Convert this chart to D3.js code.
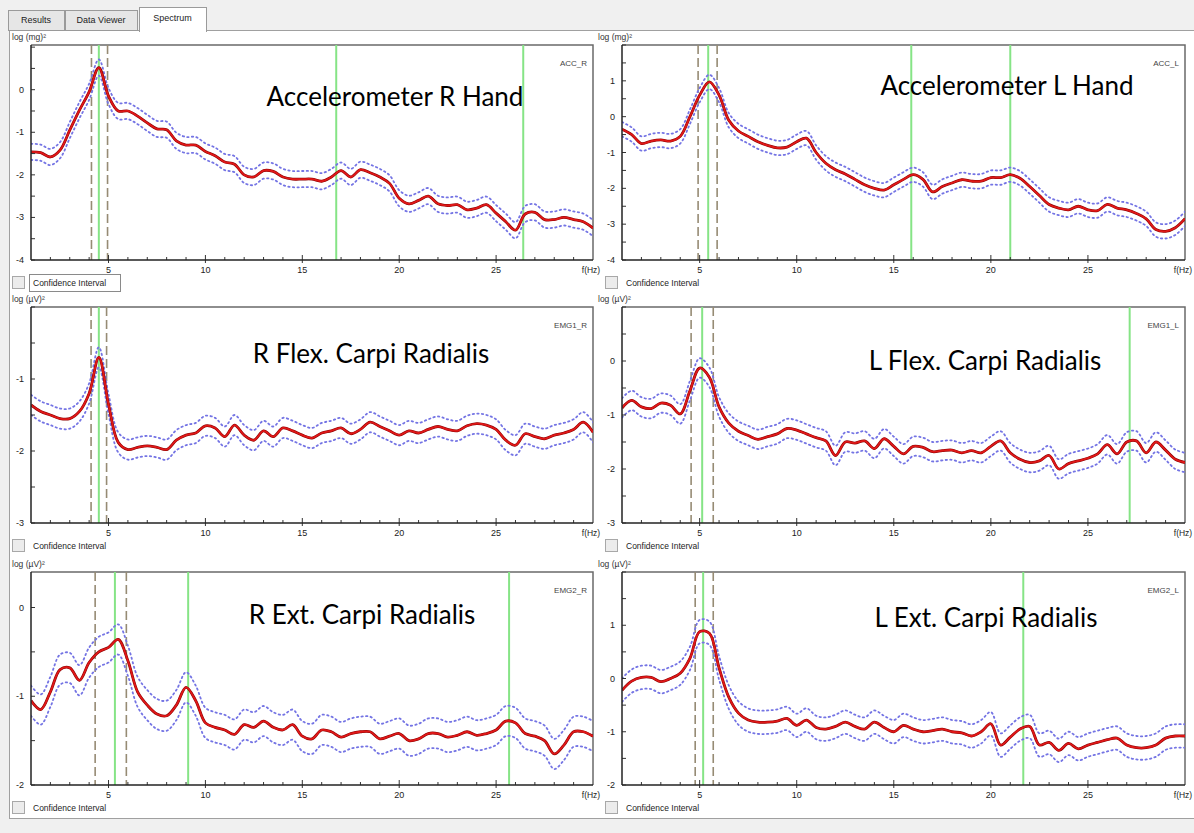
<!DOCTYPE html>
<html>
<head>
<meta charset="utf-8">
<script src="https://cdn.jsdelivr.net/npm/d3@7/dist/d3.min.js"></script>
<style>
  body { margin: 0; background: #f0f0f0; }
  svg { display: block; font-family: "Liberation Sans", Arial, sans-serif; }
</style>
</head>
<body>
<div id="chart"></div>
<script>
// frequency grid (Hz)
var freqs = [1, 1.5, 2, 2.5, 3, 3.5, 4, 4.5, 5, 5.5, 6, 6.5, 7, 7.5, 8, 8.5, 9, 9.5, 10, 10.5,
  11, 11.5, 12, 12.5, 13, 13.5, 14, 14.5, 15, 15.5, 16, 16.5, 17, 17.5, 18, 18.5, 19, 19.5, 20, 20.5,
  21, 21.5, 22, 22.5, 23, 23.5, 24, 24.5, 25, 25.5, 26, 26.5, 27, 27.5, 28, 28.5, 29, 29.5, 30];
var freqRange = [1, 30];
var majorTicks = [5, 10, 15, 20, 25];

// log power spectra, one per channel
var accR = [-1.46, -1.48, -1.58, -1.42, -0.95, -0.48, -0.05, 0.52, -0.15, -0.5, -0.5, -0.62, -0.78, -0.92, -0.94, -1.2, -1.3, -1.3, -1.45, -1.55,
  -1.7, -1.75, -2.0, -2.05, -1.9, -1.92, -2.05, -2.1, -2.1, -2.1, -2.15, -2.05, -1.9, -2.05, -1.88, -1.95, -2.05, -2.2, -2.55, -2.68,
  -2.6, -2.5, -2.68, -2.72, -2.7, -2.82, -2.78, -2.7, -2.9, -3.1, -3.3, -2.92, -2.88, -3.05, -3.05, -3.0, -3.05, -3.1, -3.25];
var accL = [-0.35, -0.5, -0.75, -0.68, -0.65, -0.68, -0.55, 0.0, 0.6, 0.97, 0.6, -0.1, -0.4, -0.55, -0.7, -0.8, -0.87, -0.85, -0.7, -0.6,
  -1.0, -1.3, -1.48, -1.6, -1.75, -1.9, -2.0, -2.05, -1.9, -1.75, -1.62, -1.75, -2.1, -1.95, -1.85, -1.76, -1.8, -1.8, -1.7, -1.7,
  -1.62, -1.72, -1.95, -2.2, -2.45, -2.55, -2.6, -2.5, -2.6, -2.62, -2.45, -2.55, -2.6, -2.7, -2.85, -3.15, -3.2, -3.1, -2.85];
var emg1R = [-1.36, -1.45, -1.5, -1.55, -1.55, -1.45, -1.2, -0.7, -1.35, -1.88, -1.98, -1.95, -1.93, -1.95, -1.98, -1.85, -1.78, -1.75, -1.65, -1.68,
  -1.8, -1.64, -1.78, -1.85, -1.72, -1.8, -1.68, -1.72, -1.78, -1.82, -1.75, -1.72, -1.68, -1.76, -1.7, -1.6, -1.66, -1.72, -1.78, -1.72,
  -1.75, -1.7, -1.66, -1.7, -1.72, -1.65, -1.62, -1.64, -1.7, -1.85, -1.92, -1.76, -1.8, -1.83, -1.78, -1.75, -1.7, -1.6, -1.74];
var emg1L = [-0.87, -0.73, -0.85, -0.88, -0.78, -0.82, -0.98, -0.55, -0.13, -0.3, -0.85, -1.15, -1.3, -1.38, -1.45, -1.4, -1.35, -1.25, -1.28, -1.35,
  -1.42, -1.48, -1.75, -1.5, -1.52, -1.48, -1.62, -1.44, -1.58, -1.72, -1.58, -1.6, -1.68, -1.66, -1.65, -1.7, -1.66, -1.7, -1.58, -1.48,
  -1.7, -1.82, -1.88, -1.85, -1.75, -2.0, -1.9, -1.85, -1.8, -1.72, -1.55, -1.72, -1.5, -1.48, -1.7, -1.5, -1.65, -1.82, -1.88];
var emg2R = [-1.05, -1.15, -0.95, -0.7, -0.68, -0.82, -0.62, -0.5, -0.45, -0.36, -0.6, -0.95, -1.1, -1.2, -1.22, -1.1, -0.9, -1.05, -1.3, -1.35,
  -1.38, -1.43, -1.32, -1.35, -1.28, -1.35, -1.38, -1.32, -1.45, -1.48, -1.38, -1.4, -1.46, -1.42, -1.4, -1.4, -1.48, -1.45, -1.42, -1.5,
  -1.48, -1.42, -1.42, -1.46, -1.44, -1.4, -1.44, -1.42, -1.38, -1.28, -1.3, -1.42, -1.45, -1.5, -1.65, -1.55, -1.4, -1.4, -1.45];
var emg2L = [-0.22, -0.05, 0.02, 0.02, -0.06, 0.0, 0.1, 0.38, 0.88, 0.85, 0.2, -0.35, -0.65, -0.78, -0.82, -0.82, -0.8, -0.75, -0.88, -0.78,
  -0.92, -0.95, -0.9, -0.82, -0.9, -0.95, -0.82, -0.92, -1.0, -0.88, -0.95, -1.0, -0.98, -0.95, -1.0, -1.02, -1.08, -1.0, -0.85, -1.25,
  -1.1, -0.95, -0.9, -1.25, -1.2, -1.35, -1.22, -1.32, -1.25, -1.2, -1.15, -1.12, -1.25, -1.3, -1.3, -1.25, -1.12, -1.08, -1.08];

// confidence half-widths (log units)
var ciWidths = [0.19, 0.2, 0.14, 0.18, 0.17, 0.22];

// y ranges
var yDomains = [[-4, 1.05], [-4, 2], [-3, 0], [-3, 1], [-2, 0.4], [-2, 2]];

// marker lines (Hz)
var greenLines = [[4.5, 16.75, 26.4], [5.44, 15.9, 21.0], [4.5], [5.13, 27.15], [5.33, 9.11, 25.67], [5.18, 21.67]];
var dashedLines = [[4.12, 4.95], [4.92, 5.9], [4.1, 4.9], [4.56, 5.7], [4.31, 5.92], [4.77, 5.7]];

// texts
var channels = ["ACC_R", "ACC_L", "EMG1_R", "EMG1_L", "EMG2_R", "EMG2_L"];
var titles = ["Accelerometer R Hand", "Accelerometer L Hand", "R Flex. Carpi Radialis",
  "L Flex. Carpi Radialis", "R Ext. Carpi Radialis", "L Ext. Carpi Radialis"];
var yUnits = ["log (mg)\u00b2", "log (mg)\u00b2", "log (\u00b5V)\u00b2", "log (\u00b5V)\u00b2", "log (\u00b5V)\u00b2", "log (\u00b5V)\u00b2"];
var tabs = ["Results", "Data Viewer", "Spectrum"];

var series = [accR, accL, emg1R, emg1L, emg2R, emg2L];

var W = 1194, H = 833;
var svg = d3.select("#chart").append("svg").attr("width", W).attr("height", H);

// window chrome
svg.append("rect").attr("width", W).attr("height", H).attr("fill", "#f0f0f0");
svg.append("rect").attr("x", 9.5).attr("y", 30.5).attr("width", W - 9).attr("height", 788)
  .attr("fill", "#fff").attr("stroke", "#a0a0a0");

var tabPos = [[8, 56], [65, 72], [139, 67]];
tabs.forEach(function(t, i) {
  var active = i == 2;
  var g = svg.append("g");
  g.append("rect")
    .attr("x", tabPos[i][0] + 0.5).attr("y", active ? 7.5 : 10.5)
    .attr("width", tabPos[i][1]).attr("height", active ? 24 : 20)
    .attr("fill", active ? "#fff" : "#e6e6e6").attr("stroke", "#9a9a9a");
  g.append("text")
    .attr("x", tabPos[i][0] + tabPos[i][1] / 2).attr("y", active ? 21 : 23)
    .attr("text-anchor", "middle").attr("font-size", 9).attr("fill", "#222")
    .text(t);
});
svg.append("rect").attr("x", 140).attr("y", 29).attr("width", 66).attr("height", 3).attr("fill", "#fff");

// panel layout
var colX = [[31, 593], [622, 1185]];
var rowY = [[45, 260], [307, 523], [572, 785]];
var titlePos = [[395, 106], [1007, 95], [371, 363], [985, 370], [362, 624], [986, 627]];

var line = d3.line().curve(d3.curveCatmullRom.alpha(0.5));

series.forEach(function(vals, i) {
  var col = i % 2, row = Math.floor(i / 2);
  var x0 = colX[col][0], x1 = colX[col][1];
  var y0 = rowY[row][0], y1 = rowY[row][1];

  var x = d3.scaleLinear().domain(freqRange).range([x0, x1]);
  var y = d3.scaleLinear().domain(yDomains[i]).range([y1, y0]);

  var g = svg.append("g");

  g.append("defs").append("clipPath").attr("id", "clip" + i)
    .append("rect").attr("x", x0).attr("y", y0).attr("width", x1 - x0).attr("height", y1 - y0);

  // frame
  g.append("path")
    .attr("d", "M" + x0 + "," + y0 + "H" + x1 + "V" + y1)
    .attr("fill", "none").attr("stroke", "#6a6a6a").attr("stroke-width", 1.5);

  // unit label
  g.append("text").attr("x", x0 - 19 + (col ? -5 : 0)).attr("y", y0 - 5)
    .attr("font-size", 8.5).attr("fill", "#333").text(yUnits[i]);

  // channel name
  g.append("text").attr("x", x1 - 6).attr("y", y0 + 21)
    .attr("text-anchor", "end").attr("font-size", 8).attr("fill", "#444").text(channels[i]);

  var plot = g.append("g").attr("clip-path", "url(#clip" + i + ")");

  // marker lines
  plot.selectAll(".dash").data(dashedLines[i]).enter().append("line")
    .attr("x1", function(d) { return x(d); }).attr("x2", function(d) { return x(d); })
    .attr("y1", y0).attr("y2", y1)
    .attr("stroke", "#968b74").attr("stroke-width", 1.6).attr("stroke-dasharray", "9,4");
  plot.selectAll(".green").data(greenLines[i]).enter().append("line")
    .attr("x1", function(d) { return x(d); }).attr("x2", function(d) { return x(d); })
    .attr("y1", y0).attr("y2", y1)
    .attr("stroke", "#86e486").attr("stroke-width", 2);

  var pts = freqs.map(function(f, k) { return [x(f), y(vals[k])]; });
  var up = freqs.map(function(f, k) { return [x(f), y(vals[k] + ciWidths[i])]; });
  var lo = freqs.map(function(f, k) { return [x(f), y(vals[k] - ciWidths[i])]; });

  [up, lo].forEach(function(p) {
    plot.append("path").attr("d", line(p))
      .attr("fill", "none").attr("stroke", "#7474e4").attr("stroke-width", 1.8)
      .attr("stroke-dasharray", "1.4,3.2").attr("stroke-linecap", "round");
  });
  plot.append("path").attr("d", line(pts))
    .attr("fill", "none").attr("stroke", "#8a0000").attr("stroke-width", 2.8);
  plot.append("path").attr("d", line(pts))
    .attr("fill", "none").attr("stroke", "#e01818").attr("stroke-width", 1.8);

  // x axis
  var xAxis = g.append("g").attr("transform", "translate(0," + y1 + ")");
  xAxis.selectAll(".minor").data(d3.range(2, 30)).enter().append("line")
    .attr("x1", function(d) { return x(d); }).attr("x2", function(d) { return x(d); })
    .attr("y1", 0).attr("y2", function(d) { return majorTicks.indexOf(d) >= 0 ? -5 : -3; })
    .attr("stroke", "#333");
  xAxis.selectAll(".major").data(majorTicks).enter().append("line")
    .attr("x1", function(d) { return x(d); }).attr("x2", function(d) { return x(d); })
    .attr("y1", 0).attr("y2", 3).attr("stroke", "#333");
  xAxis.selectAll("text").data(majorTicks).enter().append("text")
    .attr("x", function(d) { return x(d); }).attr("y", 13)
    .attr("text-anchor", "middle").attr("font-size", 9).attr("fill", "#222")
    .text(function(d) { return d; });
  xAxis.append("text").attr("x", x1 - 2).attr("y", 13).attr("text-anchor", "middle")
    .attr("font-size", 8.5).attr("fill", "#222").text("f(Hz)");
  xAxis.append("line").attr("x1", x0).attr("x2", x1).attr("stroke", "#222").attr("stroke-width", 1.5);

  // y axis
  var yd = yDomains[i];
  var yTicks = d3.range(Math.ceil(yd[0] * 2) / 2, yd[1] + 0.001, 0.5);
  var yAxis = g.append("g");
  yAxis.selectAll("line.t").data(yTicks).enter().append("line")
    .attr("x1", x0).attr("x2", x0 + 4)
    .attr("y1", function(d) { return y(d); }).attr("y2", function(d) { return y(d); })
    .attr("stroke", "#333");
  yAxis.selectAll("text")
    .data(yTicks.filter(function(d) { return d % 1 == 0 && y(d) > y0 + 6; }))
    .enter().append("text")
    .attr("x", x0 - 7).attr("y", function(d) { return y(d) + 3; })
    .attr("text-anchor", "end").attr("font-size", 9).attr("fill", "#222")
    .text(function(d) { return d; });
  yAxis.append("line").attr("x1", x0).attr("x2", x0).attr("y1", y0).attr("y2", y1)
    .attr("stroke", "#222").attr("stroke-width", 1.5);

  // confidence checkbox
  var cx = col ? 605 : 12;
  g.append("rect").attr("x", cx + 0.5).attr("y", y1 + 16.5).attr("width", 12).attr("height", 12)
    .attr("fill", "#ececec").attr("stroke", "#a8a8a8");
  if (i == 0) {
    g.append("rect").attr("x", cx + 17.5).attr("y", y1 + 14.5).attr("width", 91).attr("height", 17)
      .attr("fill", "#fff").attr("stroke", "#8a8a8a");
  }
  g.append("text").attr("x", cx + 21).attr("y", y1 + 26).attr("font-size", 8.5).attr("fill", "#222")
    .text("Confidence Interval");

  // annotation title
  g.append("text").attr("x", titlePos[i][0]).attr("y", titlePos[i][1])
    .attr("text-anchor", "middle")
    .attr("font-family", "Lato, 'Open Sans', sans-serif").attr("font-size", 26).attr("fill", "#000")
    .text(titles[i]);
});
</script>
</body>
</html>
